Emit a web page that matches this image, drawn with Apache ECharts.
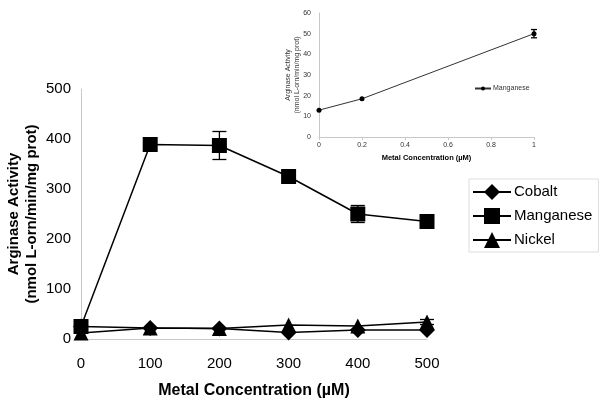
<!DOCTYPE html>
<html><head><meta charset="utf-8">
<script src="https://cdn.jsdelivr.net/npm/echarts@6/dist/echarts.min.js"></script>
<style>html,body{margin:0;padding:0;background:#fff}#c{width:600px;height:406px}</style>
</head><body><div id="c"></div>
<script>
const concentrations = [0, 100, 200, 300, 400, 500];
const cobalt = [25, 22, 21, 13, 18, 18];
const manganese = [25, 389, 387, 325, 250, 235];
const manganeseErr = [0, 0, 28, 0, 17, 6];
const nickel = [12, 22, 21, 28, 26, 34];
const nickelErr = [0, 0, 0, 0, 0, 5];
const insetConc = [0, 0.2, 1];
const insetMn = [13, 18.5, 50];
const insetErr = [0, 0, 2];

const FONT = 'Liberation Sans, Arial, sans-serif';
const pairs = (xs, ys) => xs.map((x, i) => [x, ys[i]]);
const errData = (xs, ys, es) => xs.map((x, i) => [x, ys[i] - es[i], ys[i] + es[i]]).filter((d, i) => es[i] > 0);
function errSeries(data, xi, yi, cap) {
  return {
    type: 'custom', xAxisIndex: xi, yAxisIndex: yi, data: data, z: 5, silent: true,
    renderItem: function (params, api) {
      const lo = api.coord([api.value(0), api.value(1)]);
      const hi = api.coord([api.value(0), api.value(2)]);
      const st = { stroke: '#000', lineWidth: 1.3 };
      return { type: 'group', children: [
        { type: 'line', shape: { x1: lo[0], y1: lo[1], x2: hi[0], y2: hi[1] }, style: st },
        { type: 'line', shape: { x1: lo[0] - cap, y1: lo[1], x2: lo[0] + cap, y2: lo[1] }, style: st },
        { type: 'line', shape: { x1: hi[0] - cap, y1: hi[1], x2: hi[0] + cap, y2: hi[1] }, style: st }
      ]};
    }
  };
}
const chart = echarts.init(document.getElementById('c'), null, { renderer: 'canvas' });
const axisLine = { show: true, lineStyle: { color: '#c8c8c8', width: 1 } };
chart.setOption({
  animation: false,
  backgroundColor: '#fff',
  grid: [
    { left: 81, top: 89, width: 346, height: 250, containLabel: false, outerBoundsMode: 'none' },
    { left: 319, top: 13, width: 215, height: 124, containLabel: false, outerBoundsMode: 'none' }
  ],
  xAxis: [
    { type: 'value', gridIndex: 0, min: 0, max: 500, interval: 100,
      axisLine: axisLine, axisTick: { show: false }, splitLine: { show: false },
      axisLabel: { color: '#000', fontFamily: FONT, fontSize: 15, margin: 17 },
      name: 'Metal Concentration (µM)', nameLocation: 'middle', nameGap: 44, nameMoveOverlap: false,
      nameTextStyle: { color: '#000', fontFamily: FONT, fontSize: 16, fontWeight: 'bold' } },
    { type: 'value', gridIndex: 1, min: 0, max: 1, interval: 0.2,
      axisLine: axisLine, axisTick: { show: true, inside: false, length: 3, lineStyle: { color: '#c8c8c8' } },
      splitLine: { show: false },
      axisLabel: { color: '#333', fontFamily: FONT, fontSize: 7, margin: 5 },
      name: 'Metal Concentration (µM)', nameLocation: 'middle', nameGap: 17, nameMoveOverlap: false,
      nameTextStyle: { color: '#000', fontFamily: FONT, fontSize: 7.5, fontWeight: 'bold' } }
  ],
  yAxis: [
    { type: 'value', gridIndex: 0, min: 0, max: 500, interval: 100,
      axisLine: axisLine, axisTick: { show: false }, splitLine: { show: false },
      axisLabel: { color: '#000', fontFamily: FONT, fontSize: 15, margin: 10 },
      name: 'Arginase Activity\n(nmol L-orn/min/mg prot)', nameLocation: 'middle', nameGap: 40, nameMoveOverlap: false,
      nameTextStyle: { color: '#000', fontFamily: FONT, fontSize: 15, fontWeight: 'bold', lineHeight: 18 } },
    { type: 'value', gridIndex: 1, min: 0, max: 60, interval: 10,
      axisLine: axisLine, axisTick: { show: false }, splitLine: { show: false },
      axisLabel: { color: '#333', fontFamily: FONT, fontSize: 7, margin: 8 },
      name: 'Arginase Activity\n(nmol L-orn/min/mg prot)', nameLocation: 'middle', nameGap: 17.5, nameMoveOverlap: false,
      nameTextStyle: { color: '#333', fontFamily: FONT, fontSize: 7, lineHeight: 9 } }
  ],
  legend: [
    { data: ['Cobalt', 'Manganese', 'Nickel'],
      orient: 'vertical', left: 469, top: 179, itemGap: 8, itemWidth: 38, itemHeight: 20,
      padding: [5, 6, 4, 3], borderColor: '#ddd', borderWidth: 1,
      textStyle: { color: '#000', fontFamily: FONT, fontSize: 15, padding: [0, 0, 0, -2] } },
    { data: ['Manganese '], left: 474, top: 85, itemWidth: 16, itemHeight: 5, itemGap: 2,
      textStyle: { color: '#333', fontFamily: FONT, fontSize: 7, padding: [0, 0, 0, -3] }, padding: 0 }
  ],
  series: [
    { name: 'Cobalt', type: 'line', xAxisIndex: 0, yAxisIndex: 0, data: pairs(concentrations, cobalt),
      symbol: 'diamond', symbolSize: 16, color: '#000', lineStyle: { color: '#000', width: 1.5 }, itemStyle: { color: '#000' }, z: 3 },
    { name: 'Manganese', type: 'line', xAxisIndex: 0, yAxisIndex: 0, data: pairs(concentrations, manganese),
      symbol: 'rect', symbolSize: 15, color: '#000', lineStyle: { color: '#000', width: 1.5 }, itemStyle: { color: '#000' }, z: 4 },
    { name: 'Nickel', type: 'line', xAxisIndex: 0, yAxisIndex: 0, data: pairs(concentrations, nickel),
      symbol: 'triangle', symbolSize: 15, color: '#000', lineStyle: { color: '#000', width: 1.5 }, itemStyle: { color: '#000' }, z: 3 },
    errSeries(errData(concentrations, manganese, manganeseErr), 0, 0, 7),
    errSeries(errData(concentrations, nickel, nickelErr), 0, 0, 7),
    { name: 'Manganese ', type: 'line', xAxisIndex: 1, yAxisIndex: 1, data: pairs(insetConc, insetMn),
      symbol: 'circle', symbolSize: 5, color: '#000', lineStyle: { color: '#333', width: 1 }, itemStyle: { color: '#000' } },
    errSeries(errData(insetConc, insetMn, insetErr), 1, 1, 3)
  ]
});
</script></body></html>
